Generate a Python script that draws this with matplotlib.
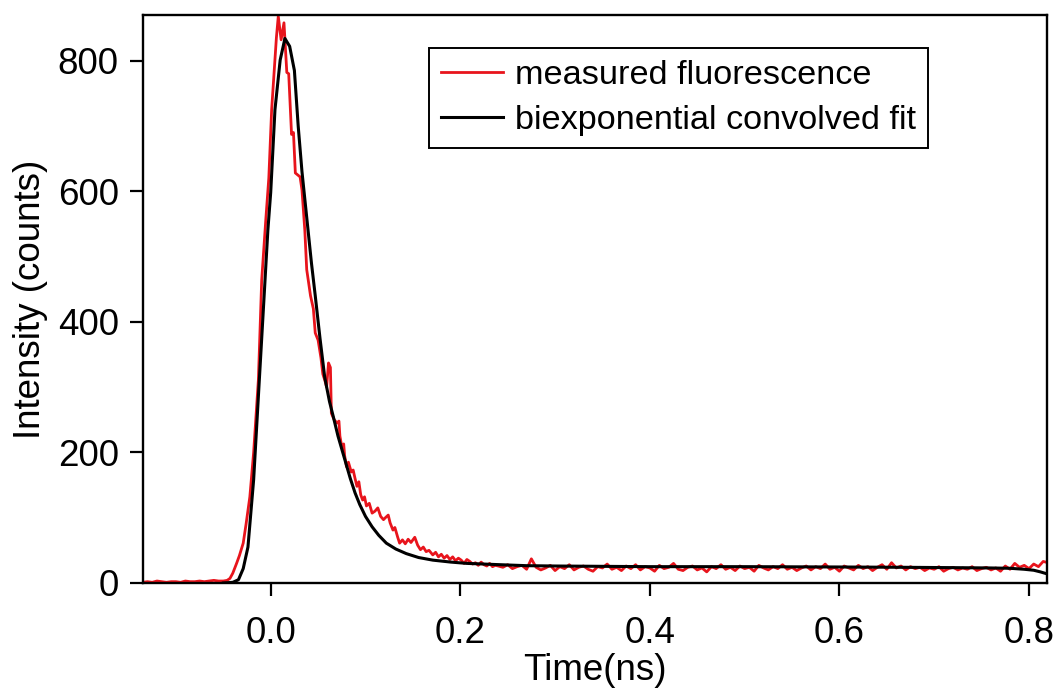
import numpy as np
import matplotlib.pyplot as plt

plt.rcParams['font.family'] = ['Liberation Sans', 'DejaVu Sans']

# measured fluorescence
base_t = np.round(np.arange(-0.135, -0.0549, 0.005), 3)
base_y = [1, 2, 1, 3, 2, 1, 2, 2, 1, 3, 2, 2, 3, 2, 3, 4, 3]

peak_t = [-0.050, -0.046, -0.043, -0.040, -0.036, -0.033, -0.029, -0.026, -0.022, -0.018,
          -0.013, -0.0095, -0.005, -0.002, 0.001, 0.004, 0.006, 0.008, 0.011, 0.014,
          0.017, 0.019, 0.022, 0.024, 0.026, 0.031, 0.033, 0.036, 0.038, 0.042,
          0.045, 0.047, 0.050, 0.053, 0.055, 0.057, 0.059, 0.061, 0.063, 0.064,
          0.067, 0.070, 0.072, 0.073, 0.075, 0.077, 0.078, 0.080, 0.082, 0.085,
          0.087, 0.089, 0.091, 0.093, 0.095, 0.097, 0.099, 0.101, 0.104, 0.107,
          0.110, 0.113, 0.116, 0.119, 0.121, 0.124, 0.126, 0.129, 0.131, 0.134,
          0.136, 0.139, 0.142, 0.145, 0.148, 0.152, 0.155, 0.158, 0.161, 0.164,
          0.167, 0.171, 0.174, 0.177, 0.180, 0.183, 0.186, 0.189, 0.192, 0.195,
          0.198, 0.201, 0.204, 0.207, 0.210, 0.213, 0.216, 0.219, 0.222, 0.225,
          0.228, 0.231, 0.234, 0.237]
peak_y = [3, 4, 7, 15, 30, 42, 61, 90, 132, 200,
          311, 464, 560, 620, 725, 790, 835, 868, 832, 858,
          782, 780, 687, 690, 628, 622, 602, 540, 480, 440,
          420, 383, 372, 345, 320, 311, 300, 337, 330, 260,
          250, 245, 248, 225, 209, 213, 195, 178, 185, 170,
          173, 160, 148, 155, 135, 127, 132, 118, 122, 107,
          110, 115, 102, 97, 100, 104, 92, 81, 85, 70,
          61, 66, 60, 67, 62, 70, 58, 51, 55, 48,
          50, 43, 47, 40, 44, 38, 42, 36, 40, 34,
          38, 35, 30, 36, 33, 29, 31, 27, 32, 28,
          26, 30, 25, 27]

tail_t = np.round(np.arange(0.24, 0.8201, 0.005), 3)
tail_y = [26, 24, 28, 22, 25, 27, 21, 37, 24, 20,
          23, 27, 19, 25, 22, 28, 20, 24, 26, 21,
          18, 25, 23, 29, 21, 24, 19, 26, 22, 28,
          20, 25, 23, 18, 27, 22, 24, 30, 21, 19,
          24, 26, 20, 23, 17, 25, 22, 28, 21, 24,
          19, 26, 22, 24, 18, 27, 23, 20, 25, 22,
          28, 21, 24, 19, 23, 26, 20, 25, 22, 29,
          21, 24, 18, 26, 23, 20, 27, 22, 25, 19,
          24, 28, 21, 31, 23, 26, 20, 25, 22, 24,
          19, 23, 21, 25, 18, 22, 24, 20, 23, 21,
          25, 19, 22, 24, 20, 23, 18, 26, 21, 30,
          24, 27, 22, 29, 25, 33, 31]

# biexponential convolved fit
fit_t = [-0.050, -0.040, -0.034, -0.029, -0.024, -0.018, -0.012, -0.007, -0.003, 0.0,
         0.0045, 0.010, 0.015, 0.020, 0.025, 0.029, 0.033, 0.038, 0.043, 0.047,
         0.052, 0.057, 0.062, 0.066, 0.071, 0.075, 0.080, 0.084, 0.089, 0.094,
         0.100, 0.107, 0.114, 0.122, 0.132, 0.143, 0.156, 0.171, 0.190, 0.207,
         0.225, 0.242, 0.270, 0.300, 0.350, 0.400, 0.500, 0.600, 0.670, 0.720,
         0.760, 0.780, 0.795, 0.805, 0.812, 0.819]
fit_y = [0, 1, 5, 22, 55, 158, 311, 438, 540, 598,
         725, 801, 834, 822, 785, 700, 630, 560, 490, 440,
         375, 315, 278, 255, 225, 205, 180, 160, 138, 120,
         102, 86, 73, 61, 52, 45, 39, 35, 32, 30,
         29, 28, 26.5, 26, 25.5, 25, 25, 24.5, 24, 23.5,
         23, 22.5, 21, 19.5, 17, 14]

meas_t = np.concatenate([base_t, peak_t, tail_t])
meas_y = np.concatenate([base_y, peak_y, tail_y])

fig = plt.figure(figsize=(10.61, 6.9), dpi=100)
ax = fig.add_axes([0.1348, 0.1551, 0.8520, 0.8232])

ax.plot(meas_t, meas_y, color='#e8141c', lw=2.0, label='measured fluorescence')
ax.plot(fit_t, fit_y, color='black', lw=2.2, label='biexponential convolved fit')

ax.set_xlim(-0.1347, 0.819)
ax.set_ylim(0, 870)
ax.set_xticks([0.0, 0.2, 0.4, 0.6, 0.8])
ax.set_xticklabels(['0.0', '0.2', '0.4', '0.6', '0.8'])
ax.set_yticks([0, 200, 400, 600, 800])

for s in ax.spines.values():
    s.set_linewidth(1.7)
ax.tick_params(direction='out', length=9.5, width=1.6, labelsize=26.5, pad=8)
ax.tick_params(axis='x', pad=14)

ax.set_xlabel('Time(ns)', fontsize=26.5, labelpad=1.5)
ax.set_ylabel('Intensity (counts)', fontsize=26.5, labelpad=7)

leg = ax.legend(loc='upper right', bbox_to_anchor=(0.868, 0.942), fontsize=24.7,
                frameon=True, fancybox=False, edgecolor='black', framealpha=1,
                handlelength=1.8, handletextpad=0.35, labelspacing=0.42,
                borderpad=0.35, borderaxespad=0)
leg.get_frame().set_linewidth(1.4)

plt.savefig('out.png', dpi=100)
